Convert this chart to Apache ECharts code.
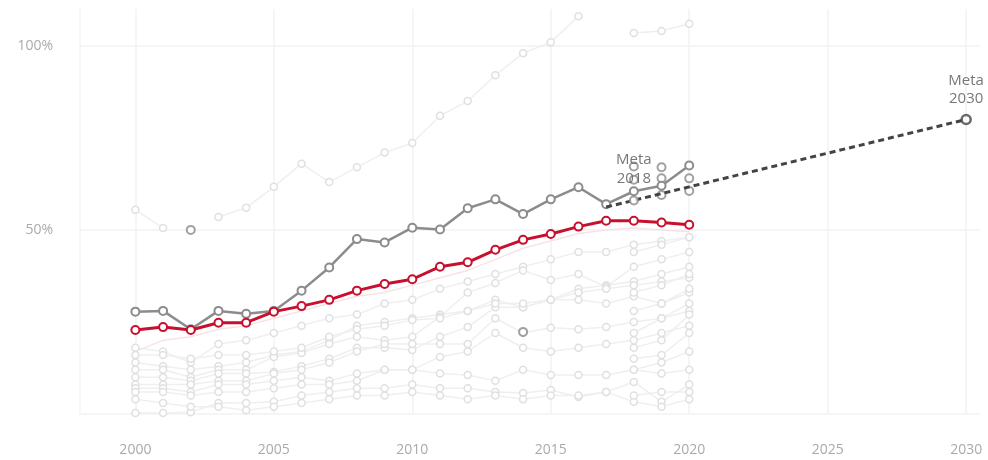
<!DOCTYPE html>
<html>
<head>
<meta charset="utf-8">
<script src="https://cdn.jsdelivr.net/npm/echarts@6/dist/echarts.min.js"></script>
<style>
html,body{margin:0;padding:0;background:#fff;}
#chart{width:988px;height:460px;}
</style>
</head>
<body>
<div id="chart"></div>
<script>
// ---- data ----
const years = [2000,2001,2002,2003,2004,2005,2006,2007,2008,2009,2010,2011,2012,2013,2014,2015,2016,2017,2018,2019,2020];
const xTickLabels = [2000,2005,2010,2015,2020,2025,2030];
const yTickLabels = ['50%','100%'];

const averageValues = [22.8,23.6,22.8,24.8,24.8,27.8,29.3,31,33.5,35.3,36.6,40,41.2,44.6,47.3,48.9,50.9,52.5,52.5,52,51.4];
const countryValues = [27.8,28,23,28,27.2,28,33.5,39.8,47.5,46.6,50.6,50.1,55.9,58.3,54.3,58.3,61.6,57,60.5,62,67.5];

const targetYears = [2017,2030];
const targetValues = [56.2,80];
const meta2018 = [2018,58];
const meta2030 = [2030,80];

const highlightPoints = [[2002,50],[2014,22.3],[2018,67.2],[2018,63.6],[2019,67],[2019,64],[2019,59.5],[2020,64],[2020,60.6]];

const bgTop = [55.5,50.5,null,53.5,56,61.7,68,63,67,71,73.6,81,85,92,98,101,108,null,103.5,104,106];
const bg1 = [18,17,14,19,20,22,24,26,27,30,31,34,36,38,40,42,44,44,46,47,48];
const bg2 = [14,13,12,13,14,16,17,20,24,25,26,27,28,31,29,31,34,35,36,38,40];
const bg3 = [12,12,10,12,12,15.5,16.6,19,21,20,21,26.4,33,35.6,39,36.4,38,34.5,40,42,44];
const bg4 = [10,10,9,11,11,11.4,13,15,18,18,17.4,21,23.6,29,29,31,31,30,32,30,33];
const bg5 = [8,8,8,9,9,11,12,14,17,19,19,19,19,26,22,23.4,23,23.6,25,26,28];
const bg6 = [7,7,6,8,8,9,10,9,11,12,12,15.5,17,22,18,17,18,19,20,22,24];
const bg7 = [6,6,5,6,6,7,8,8,9,12,12,11,10.6,9,12,10.6,10.6,10.6,12,11,12];
const bg8 = [0.3,0.3,0.5,3,3,3.3,5,6,7,7,8,7,7,6,5.7,6.5,4.6,6,8.7,3.3,8];
const bg9 = [16,16,15,16,16,17,18,21,23,24,25.5,26,28,30,30,31,33,34,35,36,37];
const bg10 = [4,3,2,2,1,2,3,4,5,5,6,5,4,5,4,5,5,6,3.3,2,4];
const bg11 = [null,null,null,null,null,null,null,null,null,null,null,null,null,null,null,null,null,null,44,46,48];
const bg12 = [null,null,null,null,null,null,null,null,null,null,null,null,null,null,null,null,null,null,33,35,38];
const bg13 = [null,null,null,null,null,null,null,null,null,null,null,null,null,null,null,null,null,null,28,30,34];
const bg14 = [null,null,null,null,null,null,null,null,null,null,null,null,null,null,null,null,null,null,22,26,30];
const bg15 = [null,null,null,null,null,null,null,null,null,null,null,null,null,null,null,null,null,null,18,20,27];
const bg16 = [null,null,null,null,null,null,null,null,null,null,null,null,null,null,null,null,null,null,15,16,22];
const bg17 = [null,null,null,null,null,null,null,null,null,null,null,null,null,null,null,null,null,null,12,14,17];
const bg18 = [null,null,null,null,null,null,null,null,null,null,null,null,null,null,null,null,null,null,5,6,6];
const bgPink = [17,20,21,23,24,26,28,30,32,33,35,37,39,42,45,47,49,50,50.5,50,49.5];

const backgroundSeries = [bgTop,bg1,bg2,bg3,bg4,bg5,bg6,bg7,bg8,bg9,bg10,bg11,bg12,bg13,bg14,bg15,bg16,bg17,bg18];

// ---- chart ----
const pair = (xs, vs) => xs.map((x,i) => [x, vs[i]]);
const font = 'Open Sans, Noto Sans, sans-serif';

const series = [];
backgroundSeries.forEach((vals) => {
  series.push({
    type:'line', data: pair(years, vals), connectNulls:false,
    symbol:'circle', symbolSize:7, silent:true, z:1,
    lineStyle:{color:'#efefef', width:1.5},
    itemStyle:{color:'#ffffff', borderColor:'#e0e0e0', borderWidth:1.5},
    emphasis:{disabled:true}
  });
});
series.push({
  type:'line', data: pair(years, bgPink), symbol:'none', silent:true, z:1,
  lineStyle:{color:'#f8e2e6', width:1.5}
});
series.push({
  type:'scatter', data: highlightPoints, symbol:'circle', symbolSize:8, z:4,
  itemStyle:{color:'#ffffff', borderColor:'#8a8a8a', borderWidth:2}
});
series.push({
  type:'line', data: pair(years, countryValues), symbol:'circle', symbolSize:8, z:5,
  lineStyle:{color:'#8c8c8c', width:2.5},
  itemStyle:{color:'#ffffff', borderColor:'#8c8c8c', borderWidth:2}
});
series.push({
  type:'line', data: pair(years, averageValues), symbol:'circle', symbolSize:8, z:6,
  lineStyle:{color:'#c8102e', width:3},
  itemStyle:{color:'#ffffff', borderColor:'#c8102e', borderWidth:2}
});
series.push({
  type:'line', data: pair(targetYears, targetValues), symbol:'none', z:7,
  lineStyle:{color:'#444444', width:3, type:[6,4]}
});
series.push({
  type:'scatter', data:[meta2018], symbol:'circle', symbolSize:8, z:8,
  itemStyle:{color:'#ffffff', borderColor:'#8a8a8a', borderWidth:2},
  label:{show:true, position:'top', distance:7, formatter:'Meta\n2018', color:'#555', fontSize:15, lineHeight:19, fontFamily:font}
});
series.push({
  type:'scatter', data:[meta2030], symbol:'circle', symbolSize:9, z:8,
  itemStyle:{color:'#ffffff', borderColor:'#444444', borderWidth:2.5},
  label:{show:true, position:'top', distance:6, formatter:'Meta\n2030', color:'#555', fontSize:15, lineHeight:18, fontFamily:font}
});

const chart = echarts.init(document.getElementById('chart'), null, {renderer:'canvas'});
chart.setOption({
  animation:false,
  backgroundColor:'#ffffff',
  grid:{left:80, right:8, top:9, bottom:46},
  xAxis:{
    type:'value', min:1998, max:2030.5, interval:1,
    axisLine:{show:false}, axisTick:{show:false},
    axisLabel:{color:'#aaaaaa', fontSize:14, margin:29, fontFamily:font,
      formatter:(v) => xTickLabels.includes(v) ? String(v) : ''},
    splitLine:{show:true, lineStyle:{width:1.5, color:['rgba(0,0,0,0)','rgba(0,0,0,0)','#f2f2f2','rgba(0,0,0,0)','rgba(0,0,0,0)']}}
  },
  yAxis:{
    type:'value', min:0, max:110, interval:50,
    axisLine:{show:true, lineStyle:{color:'#f4f4f4', width:1.5}}, axisTick:{show:false},
    axisLabel:{color:'#aaaaaa', fontSize:14, margin:27, fontFamily:font,
      formatter:(v) => { const s = v + '%'; return yTickLabels.includes(s) ? s : ''; }},
    splitLine:{show:true, showMaxLine:false, lineStyle:{color:'#f2f2f2', width:1.5}}
  },
  series: series
});
</script>
</body>
</html>
